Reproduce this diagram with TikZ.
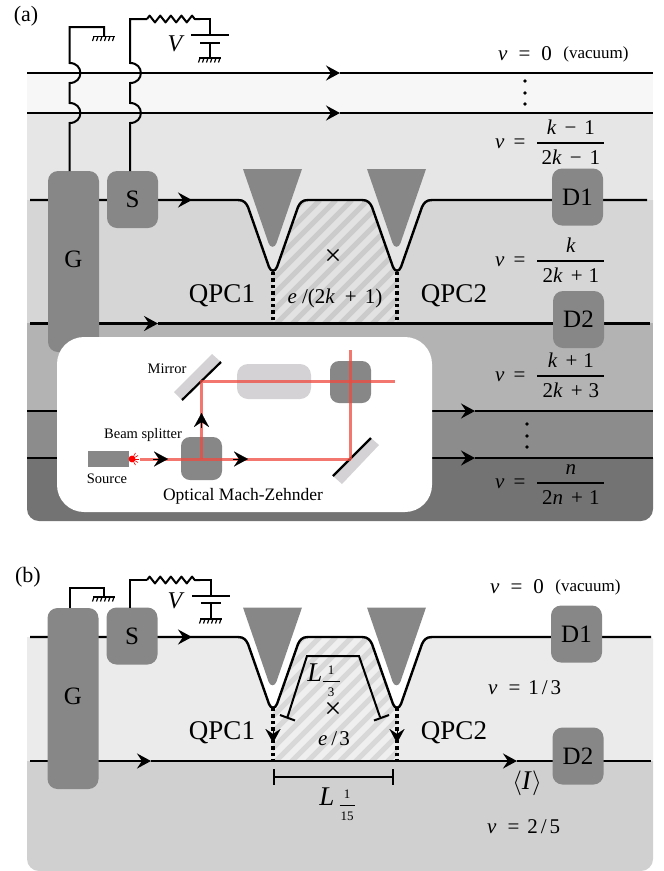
\documentclass[tikz,border=0pt]{standalone}
\usepackage{fontspec}
\setmainfont{Liberation Serif}
\usetikzlibrary{arrows.meta,decorations.pathmorphing}
\definecolor{rowA}{HTML}{F7F7F7}
\definecolor{rowB}{HTML}{E6E6E6}
\definecolor{rowC}{HTML}{D6D6D6}
\definecolor{rowD}{HTML}{B3B3B3}
\definecolor{rowE}{HTML}{8C8C8C}
\definecolor{rowF}{HTML}{737373}
\definecolor{rowG}{HTML}{EBEBEB}
\definecolor{rowH}{HTML}{D0D0D0}
\definecolor{boxgray}{HTML}{878787}
\definecolor{palegray}{HTML}{D4D2D4}
\definecolor{beam}{HTML}{F04A3E}
\definecolor{hatchAa}{HTML}{E2E2E2}
\definecolor{hatchAb}{HTML}{CBCBCB}
\definecolor{hatchBa}{HTML}{EFEFEF}
\definecolor{hatchBb}{HTML}{D8D8D8}
\newcommand\fs[1]{\fontsize{#1}{#1}\selectfont}
\newcommand\qpcedge{-- (238,0) .. controls (244,0) and (246,3) .. (248,7) -- (269,67) .. controls (271,72) and (275,72) .. (277,67) -- (298,7) .. controls (300,3) and (302,0) .. (308,0) -- (362,0) .. controls (368,0) and (370,3) .. (372,7) -- (393,67) .. controls (395,72) and (399,72) .. (401,67) -- (422,7) .. controls (424,3) and (426,0) .. (432,0)}
\newcommand\hatchzone[3]{%
  \begin{scope}
    \clip (273,80) -- (273,71) -- (277,67) -- (298,7) .. controls (300,3) and (302,0) .. (308,0) -- (362,0) .. controls (368,0) and (370,3) .. (372,7) -- (393,67) -- (397,71) -- (397,#1) -- (273,#1) -- cycle;
    \fill[#2] (250,-5) rectangle (420,140);
    \foreach \i in {-16,0,...,304}{\draw[#3,line width=5pt] (100+\i,140) -- (240+\i,0);}
  \end{scope}}
\newcommand\triangles{%
  \foreach \c in {272.5,396.5}{%
    \fill[boxgray] (\c-29.5,-31) -- (\c+29.5,-31) -- (\c+4,43) .. controls (\c+2.5,48) and (\c-2.5,48) .. (\c-4,43) -- cycle;}}
\newcommand\gnd[2]{%
  \draw[line width=1.7pt] (#1-11,#2) -- (#1+11,#2);
  \foreach \d in {-10,-6,...,10}{\draw[line width=1.2pt] (#1+\d,#2) -- (#1+\d-1.5,#2+4.5);}}
\newcommand\nufrac[2]{\textit{ν}\hspace{9pt}=\hspace{12pt}\arrayrulewidth=1.5pt\begin{tabular}{@{}c@{}}\rule[-8pt]{0pt}{27.3pt}\makebox[67pt]{#1}\\\hline\rule{0pt}{21pt}\makebox[67pt]{#2}\end{tabular}}
\newcommand\smallfr[3]{\arrayrulewidth=0.9pt\begin{tabular}{@{}c@{}}\rule[-6.5pt]{0pt}{19.4pt}\makebox[#1]{#2}\\\hline\rule{0pt}{15.5pt}\makebox[#1]{#3}\end{tabular}}
\newcommand\flowseg[2]{\draw[wire,flow] (#1) -- (#2);}
\tikzset{
  wire/.style={line width=2.4pt,black},
  thinwire/.style={line width=2pt,black,line join=miter},
  flow/.style={-{Stealth[length=14pt,width=15pt,inset=5pt]}},
  dotted line/.style={line width=3.2pt,black,dash pattern=on 3.4pt off 3pt},
  darkbox/.style={fill=boxgray,rounded corners=10pt,inner sep=0pt,minimum width=51pt,minimum height=57pt,font=\fs{25}},
  gatebox/.style={darkbox,minimum height=181pt},
  lab/.style={inner sep=0pt,font=\fs{21}},
  qpc/.style={inner sep=0pt,font=\fs{27}},
  small/.style={inner sep=0pt,font=\fs{14.5}},
  redbeam/.style={line width=3pt,beam,opacity=.75},
  panel/.style={inner sep=0pt,font=\fs{22}},
  ellip/.style={fill=black,circle,inner sep=0pt,minimum size=3.6pt},
  measure/.style={line width=2pt,black},
  resistor/.style={line width=2pt,line join=round,decorate,decoration={zigzag,segment length=10.6pt,amplitude=3.4pt}},
}
\begin{document}
\begin{tikzpicture}[x=1pt,y=-1pt]
\useasboundingbox (0,0) rectangle (664,871);
%% ---------- panel (a) backgrounds
\fill[rowA] (27,73) rectangle (653,113);
\fill[rowB] (27,113) rectangle (653,323);
\begin{scope}[shift={(0,200)}]
  \fill[rowC] (27,0) \qpcedge -- (653,0) -- (653,123) -- (27,123) -- cycle;
  \hatchzone{123}{hatchAa}{hatchAb}
  \triangles
\end{scope}
\fill[rowD] (27,323) rectangle (653,411);
\fill[rowE] (27,411) rectangle (653,458);
\fill[rowF] (27,458) [rounded corners=12pt] -- (27,521) -- (653,521) [sharp corners] -- (653,458) -- cycle;
%% named points (a)
\coordinate (a1l) at (27,73);  \coordinate (a1t) at (340,73);  \coordinate (a1r) at (653,73);
\coordinate (a2l) at (27,113); \coordinate (a2t) at (340,113); \coordinate (a2r) at (653,113);
\coordinate (a3t) at (192,200);
\coordinate (a4l) at (30,323.5); \coordinate (a4t) at (158,323.5); \coordinate (a4r) at (650,323.5);
\coordinate (a5l) at (27,411); \coordinate (a5t) at (475,411); \coordinate (a5r) at (653,411);
\coordinate (a6l) at (27,458); \coordinate (a6t) at (475,458); \coordinate (a6r) at (653,458);
\flowseg{a1l}{a1t}\draw[wire] (a1t) -- (a1r);
\flowseg{a2l}{a2t}\draw[wire] (a2t) -- (a2r);
\begin{scope}[shift={(0,200)}]
  \draw[wire,line join=round] (30,0) \qpcedge -- (647,0);
  \draw[dotted line] (273,72) -- (273,123);
  \draw[dotted line] (397,72) -- (397,123);
\end{scope}
\draw[wire,flow] (150,200) -- (a3t);
\flowseg{a4l}{a4t}\draw[wire] (a4t) -- (a4r);
\flowseg{a5l}{a5t}\draw[wire] (a5t) -- (a5r);
\flowseg{a6l}{a6t}\draw[wire] (a6t) -- (a6r);
%% gate wires (a)
\node[gatebox] (Ga) at (73.5,261.5) {\raisebox{4.5pt}{G}};
\node[darkbox] (Sa) at (132.5,199.5) {\raisebox{-1.5pt}{S}};
\node[darkbox] (Da) at (577.5,197) {D1};
\node[darkbox] (Db) at (578.5,319.5) {\raisebox{-1.5pt}{D2}};
\coordinate (gw) at (69.5,171); \coordinate (gwg) at (104,36.5);
\draw[thinwire] (gw) -- (69.5,123) .. controls (84,123) and (84,103) .. (69.5,103) -- (69.5,83) .. controls (84,83) and (84,63) .. (69.5,63) -- (69.5,27) -- (104,27) -- (gwg);
\gnd{104}{36.5}
\coordinate (sw) at (130,171); \coordinate (ra) at (147,19); \coordinate (rb) at (200,19);
\coordinate (bta) at (210,35); \coordinate (btb) at (210,42.5); \coordinate (btg) at (210,58);
\draw[thinwire] (sw) -- (130,123) .. controls (144.500,123) and (144.500,103) .. (130,103) -- (130,83) .. controls (144.500,83) and (144.500,63) .. (130,63) -- (130,19) -- (ra);
\draw[resistor] (ra) -- (rb);
\draw[thinwire] (rb) -- (210,19) -- (bta);
\draw[thinwire] (btb) -- (btg);
\draw[line width=2pt] (191,35) -- (229,35);
\draw[line width=2pt] (200,42.500) -- (220,42.500);
\gnd{210}{58}
\node[qpc,font=\fs{24}\itshape] (Va) at (175,44) {V};
\node[panel] (la) at (26,16) {(a)};
\node[lab,anchor=west] (nu0a) at (498,54) {\textit{ν}\hspace{11pt}=\hspace{11pt}0};
\node[inner sep=0pt,font=\fs{17}] (vaca) at (596,54) {(vacuum)};
\node[ellip] (da1) at (525,81) {}; \node[ellip] (da2) at (525,93) {}; \node[ellip] (da3) at (525,104) {};
\node[ellip] (db1) at (527,424) {}; \node[ellip] (db2) at (527,436) {}; \node[ellip] (db3) at (527,447) {};
\node[lab,anchor=west] (fa) at (495,143) {\nufrac{\textit{k}\hspace{8pt}−\hspace{8pt}1}{2\textit{k}\hspace{8pt}−\hspace{8pt}1}};
\node[lab,anchor=west] (fb) at (495,261) {\nufrac{\textit{k}}{2\textit{k}\hspace{8pt}+\hspace{6pt}1}};
\node[lab,anchor=west] (fc) at (495,376) {\nufrac{\textit{k}\hspace{8pt}+\hspace{6pt}1}{2\textit{k}\hspace{8pt}+\hspace{6pt}3}};
\node[lab,anchor=west] (fd) at (495,483) {\nufrac{\textit{n}}{2\textit{n}\hspace{8pt}+\hspace{6pt}1}};
\node[qpc] (qa) at (222,296) {QPC1};
\node[qpc] (qb) at (454,296) {QPC2};
\node[inner sep=0pt,font=\fs{30}] (xa) at (333,257) {×};
\node[lab] (ea) at (335,298) {\textit{e}\hspace{5pt}/(2\textit{k}\hspace{10pt}+\hspace{8pt}1)};
%% ---------- inset
\fill[white,rounded corners=27pt] (57,337) rectangle (432,512);
\fill[boxgray] (88,451) rectangle (129,467);
\fill[red] (132,459) circle (3.4pt);
\foreach \a in {-60,-30,...,60}{\draw[red,line width=.6pt] (132,459) -- ++(\a:7pt);}
\node[fill=boxgray,rounded corners=9pt,inner sep=0pt,minimum width=41pt,minimum height=43pt] (bs1) at (201.5,458.500) {};
\node[fill=boxgray,rounded corners=9pt,inner sep=0pt,minimum width=41pt,minimum height=42pt] (bs2) at (350.5,382) {};
\node[fill=palegray,rounded corners=11pt,inner sep=0pt,minimum width=74pt,minimum height=35pt] (ph) at (274,381.5) {};
\fill[palegray] (174,392) -- (212,354) -- (221,362) -- (182,400) -- cycle;
\fill[palegray] (333,476) -- (371,438) -- (379,445) -- (342,484) -- cycle;
\coordinate (m1a) at (182,400); \coordinate (m1b) at (221,362);
\coordinate (m2a) at (333,476); \coordinate (m2b) at (371,438);
\draw[line width=2.2pt] (m1a) -- (m1b);
\draw[line width=2.2pt] (m2a) -- (m2b);
\coordinate (rs) at (140,459); \coordinate (rk1) at (201.5,459); \coordinate (rm2) at (350.5,459);
\coordinate (rm1) at (201.5,381); \coordinate (rend) at (395,381); \coordinate (rtop) at (350.5,350);
\draw[redbeam] (rs) -- (rm2);
\draw[redbeam] (rk1) -- (rm1) -- (rend);
\draw[redbeam] (rtop) -- (rm2);
\draw[flow,line width=.1pt] (153,459) -- (168,459);
\draw[flow,line width=.1pt] (233,459) -- (248,459);
\draw[flow,line width=.1pt] (201.5,428) -- (201.5,413);
\node[small] (mir) at (167,369) {Mirror};
\node[small] (bsl) at (143,435.500) {Beam splitter};
\node[small] (src) at (107,479) {Source};
\node[inner sep=0pt,font=\fs{17.5}] (omz) at (243,496) {Optical Mach-Zehnder};
%% ---------- panel (b)
\begin{scope}[shift={(0,637)}]
  \fill[rowG] (27,1) -- (27,0) \qpcedge -- (651,0) -- (653,2) -- (653,124) -- (27,124) -- cycle;
  \hatchzone{124}{hatchBa}{hatchBb}
\end{scope}
\begin{scope}[shift={(0,638.5)}]
  \triangles
\end{scope}
\fill[rowH] (27,761) [rounded corners=12pt] -- (27,871) -- (653,871) [sharp corners] -- (653,761) -- cycle;
\begin{scope}[shift={(0,637)}]
  \draw[wire,line join=round] (30,0) \qpcedge -- (651,0);
  \draw[dotted line] (273,71) -- (273,124);
  \draw[dotted line] (397,71) -- (397,124);
\end{scope}
\coordinate (b1t) at (192,637);
\coordinate (b2l) at (30,761); \coordinate (b2t) at (151,761); \coordinate (b2u) at (517,761); \coordinate (b2r) at (651,761);
\draw[wire,flow] (150,637) -- (b1t);
\flowseg{b2l}{b2t}\draw[wire,flow] (b2t) -- (b2u); \draw[wire] (b2u) -- (b2r);
\draw[flow,line width=.1pt] (273,728) -- (273,743);
\draw[flow,line width=.1pt] (397,728) -- (397,743);
\node[gatebox] (Gb) at (73,698.5) {\raisebox{4.5pt}{G}};
\node[darkbox] (Sb) at (132,636) {\raisebox{-1.5pt}{S}};
\node[darkbox] (Dc) at (576.5,634) {D1};
\node[darkbox] (Dd) at (578,756) {\raisebox{-1pt}{D2}};
\coordinate (gw2) at (69.5,608); \coordinate (gwg2) at (104,597);
\draw[thinwire] (gw2) -- (69.5,587.5) -- (104,587.5) -- (gwg2);
\gnd{104}{597}
\coordinate (sw2) at (130,608); \coordinate (ra2) at (147,580); \coordinate (rb2) at (200,580);
\draw[thinwire] (sw2) -- (130,580) -- (ra2);
\draw[resistor] (ra2) -- (rb2);
\draw[thinwire] (rb2) -- (211,580) -- (211,596);
\draw[thinwire] (211,603) -- (211,619);
\draw[line width=2pt] (192,596) -- (230,596);
\draw[line width=2pt] (201,603) -- (221,603);
\gnd{211}{619}
\node[qpc,font=\fs{24}\itshape] (Vb) at (175,601) {V};
\node[panel] (lb) at (28,577) {(b)};
\node[lab,anchor=west] (nu0b) at (490,587) {\textit{ν}\hspace{11pt}=\hspace{11pt}0};
\node[inner sep=0pt,font=\fs{17}] (vacb) at (588,587) {(vacuum)};
\node[lab,anchor=west] (nu13) at (488,688) {\textit{ν}\hspace{11pt}=\hspace{8pt}1\hspace{3pt}/\hspace{3pt}3};
\node[lab,anchor=west] (nu25) at (487,827) {\textit{ν}\hspace{11pt}=\hspace{8pt}2\hspace{3pt}/\hspace{3pt}5};
\node[qpc] (qc) at (222,733) {QPC1};
\node[qpc] (qd) at (454,733) {QPC2};
\node[inner sep=0pt,font=\fs{30}] (xb) at (333,710) {×};
\node[lab] (eb) at (334,739) {\textit{e}\hspace{4pt}/\hspace{2pt}3};
%% length marks
\coordinate (k1) at (287.5,717); \coordinate (k2) at (307,656); \coordinate (k3) at (359,656); \coordinate (k4) at (380,717);
\draw[measure,line join=miter] (k1) -- (k2) -- (k3) -- (k4);
\draw[measure] (280,715) -- (295,720.500);
\draw[measure] (374,720.500) -- (389,715);
\coordinate (h1) at (274,777); \coordinate (h2) at (393,777);
\draw[measure] (h1) -- (h2);
\draw[measure] (274,769) -- (274,785);
\draw[measure] (393,769) -- (393,785);
\node[qpc,font=\fs{27}\itshape] (Lt) at (315,673) {L};
\node[inner sep=0pt,font=\fs{13}] (Lts) at (331,681) {\smallfr{17pt}{1}{3}};
\node[qpc,font=\fs{27}\itshape] (Lb) at (327,797) {L};
\node[inner sep=0pt,font=\fs{13}] (Lbs) at (347,805) {\smallfr{15pt}{1}{15}};
\node[qpc] (Iavg) at (527,783) {$\langle$\textit{I}$\rangle$};
\end{tikzpicture}
\end{document}
